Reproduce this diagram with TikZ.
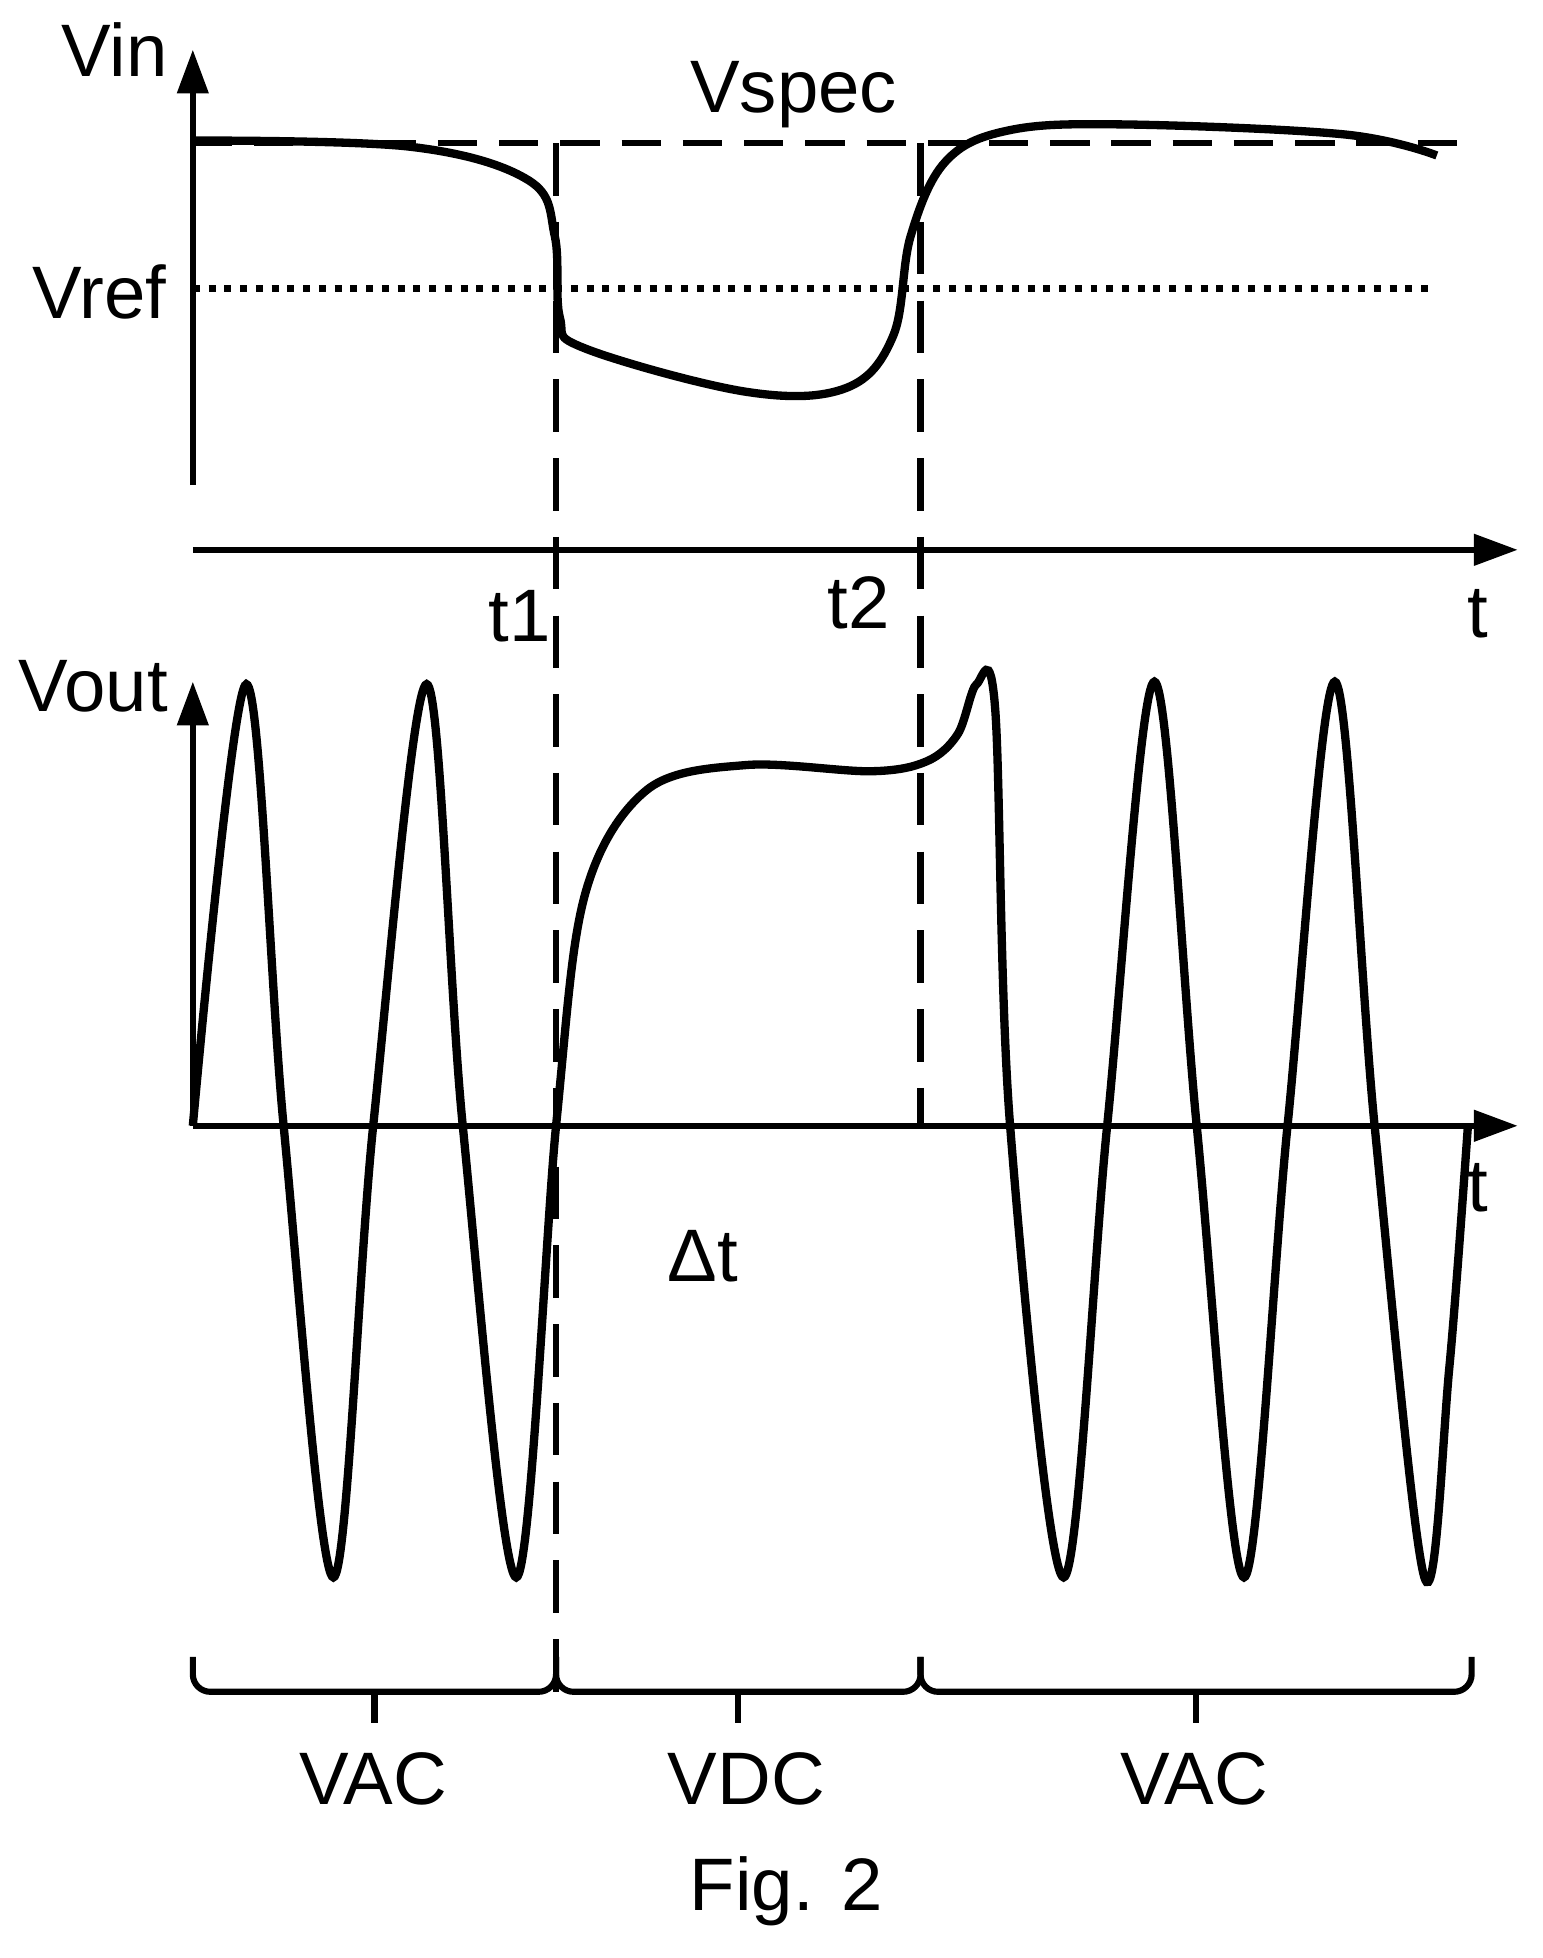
\documentclass[tikz,border=0pt]{standalone}
\usepackage{fontspec}
\setmainfont{Liberation Sans}
\usetikzlibrary{arrows.meta}
\tikzset{
  axis/.style={line width=1.3pt,-{Triangle[length=10pt,width=7pt]}},
  curve/.style={line width=1.9pt},
  lbl/.style={font=\fontsize{17}{20}\selectfont,inner sep=0pt},
  mark line/.style={line width=1.5pt,dash pattern=on 12pt off 6pt},
}
\begin{document}
\begin{tikzpicture}[x=0.01cm,y=-0.01cm]
		\useasboundingbox (0,0) rectangle (1240,1574);
		% upper graph
		\draw [axis] (155,390) -- (155,40);
		\draw [axis] (155,442) -- (1220,442);
		\draw [line width=1.3pt,dash pattern=on 9pt off 5pt] (155,115) -- (1185,115);
		\draw [line width=1.6pt,dotted] (155,232) -- (1155,232);
		\node [lbl] (vin) at (92,40) {Vin};
		\node [lbl] (vspec) at (638,76) {Vspec};
		\node [lbl] (vref) at (80,235) {Vref};
		\node [lbl] (t1) at (418,495) {t1};
		\node [lbl] (t2) at (690,485) {t2};
		\node [lbl] (ta) at (1188,493) {t};
		\draw [curve] plot [smooth,tension=0.6] coordinates {(155,113) (330,118) (425,145) (446,190) (450,255) (470,280) (600,315) (680,312) (718,270) (732,190) (760,130) (810,105) (900,100) (1080,108) (1155,125)};
		% dashed marks
		\draw [mark line] (447,115) -- (447,1360);
		\draw [mark line] (740,115) -- (740,905);
		% lower graph
		\draw [axis] (155,905) -- (155,548);
		\draw [axis] (155,905) -- (1220,905);
		\node [lbl] (vout) at (75,552) {Vout};
		\node [lbl] (tb) at (1188,955) {t};
		\node [lbl] (dt) at (565,1010) {Δt};
		\draw [curve] plot [smooth,tension=0.55] coordinates {(155,905) (198,550) (228,905) (268,1268) (300,905) (343,550) (372,905) (415,1268) (447,905) (470,720) (520,635) (600,615) (700,620) (745,612) (770,590) (785,550) (800,570) (812,905) (855,1268) (890,905) (928,548) (962,905) (1000,1268) (1035,905) (1073,548) (1105,905) (1145,1268) (1165,1100) (1180,905)};
		% braces
		\foreach \a/\b in {155/447,447/740,740/1183}{
			\draw [line width=1.4pt,rounded corners=4pt] (\a,1332) -- (\a,1360) -- (\b,1360) -- (\b,1332);
			\draw [line width=1.4pt] ({(\a+\b)/2},1360) -- ({(\a+\b)/2},1385);
		}
		\node [lbl] (vac1) at (300,1430) {VAC};
		\node [lbl] (vdc) at (600,1430) {VDC};
		\node [lbl] (vac2) at (960,1430) {VAC};
		\node [lbl] (fig) at (632,1520) {Fig. 2};
\end{tikzpicture}
\end{document}
